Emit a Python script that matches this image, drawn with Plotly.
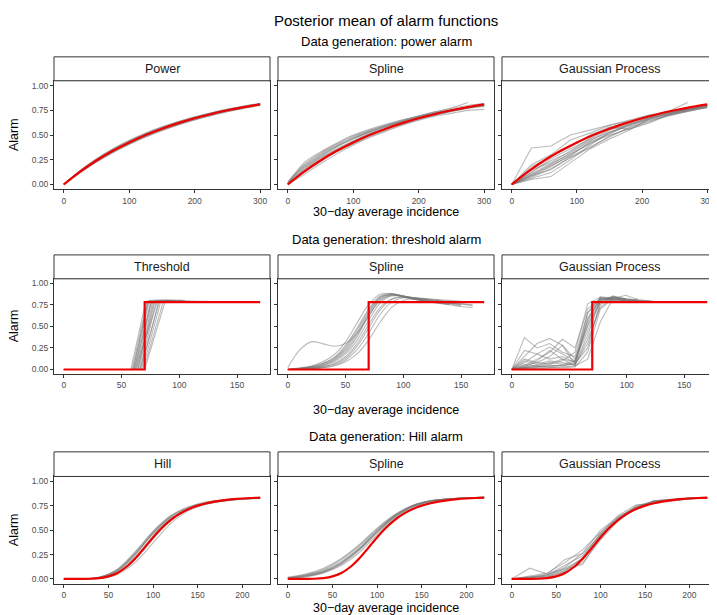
import plotly.graph_objects as go

# ---------------- Row 1: data generated with a power alarm ----------------
POWER_X = [0, 25, 50, 75, 100, 125, 150, 175, 200, 225, 250, 275, 300]
POWER_TRUE = [0, 0.130, 0.243, 0.341, 0.426, 0.501, 0.565, 0.621, 0.671, 0.713, 0.751, 0.783, 0.811]

POWER_FIT_POWER = [
    [0, 0.118, 0.226, 0.322, 0.405, 0.480, 0.545, 0.602, 0.653, 0.697, 0.736, 0.770, 0.800],
    [0, 0.142, 0.262, 0.362, 0.447, 0.521, 0.584, 0.638, 0.686, 0.727, 0.763, 0.794, 0.820],
    [0, 0.124, 0.234, 0.331, 0.414, 0.488, 0.553, 0.610, 0.660, 0.703, 0.742, 0.775, 0.804],
    [0, 0.137, 0.254, 0.353, 0.438, 0.512, 0.576, 0.631, 0.679, 0.721, 0.758, 0.790, 0.816],
    [0, 0.120, 0.229, 0.325, 0.409, 0.483, 0.548, 0.605, 0.656, 0.700, 0.739, 0.772, None],
    [0, 0.140, 0.258, 0.358, 0.443, 0.517, 0.580, 0.635, 0.683, 0.724, 0.761, 0.792, 0.818],
    [0, 0.128, 0.240, 0.338, 0.422, 0.497, 0.561, 0.618, 0.667, 0.710, 0.748, 0.780, 0.808],
    [0, 0.133, 0.247, 0.346, 0.431, 0.505, 0.569, 0.625, 0.674, 0.717, 0.754, 0.786, 0.814],
]

POWER_FIT_SPLINE = [
    [0.01, 0.22, 0.33, 0.42, 0.50, 0.56, 0.61, 0.655, 0.69, 0.725, 0.755, 0.78, 0.80],
    [0.02, 0.18, 0.30, 0.39, 0.47, 0.535, 0.59, 0.64, 0.68, 0.72, 0.75, 0.775, 0.795],
    [0.00, 0.15, 0.27, 0.36, 0.44, 0.51, 0.57, 0.62, 0.665, 0.705, 0.74, 0.77, 0.79],
    [0.00, 0.12, 0.23, 0.33, 0.41, 0.485, 0.55, 0.605, 0.655, 0.70, 0.74, 0.775, 0.805],
    [0.03, 0.20, 0.32, 0.41, 0.49, 0.55, 0.60, 0.645, 0.685, 0.72, 0.75, 0.78, None],
    [0.00, 0.16, 0.28, 0.38, 0.46, 0.53, 0.59, 0.64, 0.69, 0.735, 0.775, 0.83, None],
    [0.00, 0.10, 0.21, 0.31, 0.40, 0.475, 0.54, 0.60, 0.65, 0.69, 0.72, 0.75, 0.76],
    [0.01, 0.19, 0.31, 0.40, 0.48, 0.545, 0.60, 0.65, 0.695, 0.735, 0.77, 0.80, 0.82],
    [0.00, 0.14, 0.26, 0.355, 0.44, 0.515, 0.58, 0.635, 0.68, 0.72, 0.755, 0.785, 0.80],
    [0.01, 0.17, 0.29, 0.385, 0.465, 0.53, 0.585, 0.635, 0.678, 0.715, 0.748, 0.776, 0.80],
    [0.00, 0.13, 0.245, 0.345, 0.43, 0.505, 0.565, 0.62, 0.668, 0.71, 0.747, 0.78, 0.81],
]

GP_X1 = [0, 30, 60, 90, 120, 150, 180, 210, 240, 270, 300]
POWER_FIT_GP = [
    [0, 0.37, 0.39, 0.50, 0.55, 0.60, 0.65, 0.70, 0.74, 0.83, None],
    [0, 0.20, 0.30, 0.45, 0.52, 0.60, 0.64, 0.70, 0.73, 0.77, 0.80],
    [0, 0.10, 0.20, 0.32, 0.44, 0.55, 0.62, 0.68, 0.72, 0.76, 0.80],
    [0, 0.06, 0.12, 0.25, 0.40, 0.52, 0.60, 0.67, 0.71, 0.76, 0.79],
    [0, 0.08, 0.18, 0.30, 0.42, 0.50, 0.56, 0.62, 0.70, 0.75, 0.79],
    [0, 0.12, 0.26, 0.36, 0.46, 0.56, 0.60, 0.66, 0.72, 0.78, 0.81],
    [0, 0.15, 0.22, 0.34, 0.47, 0.58, 0.63, 0.69, 0.73, 0.76, 0.80],
    [0, 0.09, 0.15, 0.28, 0.38, 0.48, 0.58, 0.64, 0.70, 0.74, 0.78],
    [0, 0.05, 0.08, 0.22, 0.36, 0.46, 0.55, 0.66, 0.71, 0.75, 0.79],
    [0, 0.13, 0.24, 0.33, 0.45, 0.53, 0.61, 0.67, 0.74, 0.78, 0.80],
    [0, 0.18, 0.28, 0.38, 0.50, 0.58, 0.56, 0.63, 0.70, 0.75, 0.78],
    [0, 0.07, 0.16, 0.27, 0.37, 0.49, 0.57, 0.65, 0.69, 0.74, 0.78],
    [0, 0.11, 0.21, 0.31, 0.41, 0.53, 0.59, 0.66, 0.71, 0.76, 0.79],
    [0, 0.09, 0.19, 0.29, 0.43, 0.51, 0.61, 0.67, 0.72, 0.77, 0.80],
]

# ---------------- Row 2: data generated with a threshold alarm ----------------
THRESH_TRUE_X = [0, 70, 70, 170]
THRESH_TRUE_Y = [0, 0, 0.78, 0.78]

THR_RISE_START = [58, 59, 60, 61, 62, 63, 64, 65, 66, 67, 68, 69, 70, 60, 64, 62, 66, 61]
THR_RISE_END = [71, 72, 73, 74, 75, 76, 78, 79, 80, 82, 84, 86, 88, 73, 77, 81, 83, 76]
THR_LINE_END = [95, 100, 125, 105, 98, 110, 102, 96, 115, 108, 100, 104, 92, 99, 97, 106, 103, 94]
THR_TOP = [0.79, 0.78, 0.79, 0.80, 0.78, 0.79, 0.78, 0.80, 0.79, 0.78, 0.79, 0.78, 0.80, 0.79,
           0.78, 0.79, 0.80, 0.79]

SPLINE_X2 = [0, 10, 20, 30, 40, 50, 60, 70, 80, 90, 100, 110, 120, 130, 140, 150, 160]
THRESH_FIT_SPLINE = [
    [0.02, 0.22, 0.32, 0.30, 0.27, 0.30, 0.42, 0.62, 0.80, 0.86, 0.84, 0.81, 0.79, 0.77, 0.75, None, None],
    [0.00, 0.01, 0.03, 0.07, 0.14, 0.28, 0.48, 0.70, 0.85, 0.88, 0.85, 0.82, 0.80, 0.78, 0.76, 0.74, None],
    [0.00, 0.01, 0.02, 0.05, 0.10, 0.20, 0.38, 0.62, 0.80, 0.86, 0.85, 0.83, 0.81, 0.79, 0.77, 0.76, 0.74],
    [0.00, 0.00, 0.01, 0.03, 0.07, 0.15, 0.30, 0.52, 0.72, 0.82, 0.84, 0.83, 0.81, 0.80, 0.78, None, None],
    [0.00, 0.00, 0.01, 0.02, 0.05, 0.11, 0.23, 0.42, 0.64, 0.78, 0.83, 0.83, 0.81, 0.80, None, None, None],
    [0.00, 0.02, 0.04, 0.09, 0.17, 0.32, 0.54, 0.75, 0.87, 0.88, 0.84, 0.81, 0.79, 0.77, 0.76, None, None],
    [0.00, 0.00, 0.00, 0.02, 0.04, 0.09, 0.18, 0.34, 0.55, 0.72, 0.80, 0.82, 0.82, 0.81, 0.80, 0.79, None],
    [0.00, 0.01, 0.02, 0.04, 0.09, 0.18, 0.34, 0.57, 0.77, 0.85, 0.85, 0.82, 0.80, 0.78, 0.77, 0.76, 0.75],
    [0.00, 0.01, 0.03, 0.06, 0.12, 0.24, 0.43, 0.66, 0.83, 0.87, 0.85, 0.82, 0.79, 0.77, 0.75, 0.73, 0.72],
    [0.00, 0.00, 0.01, 0.03, 0.06, 0.13, 0.27, 0.48, 0.69, 0.81, 0.84, 0.83, 0.82, 0.80, 0.79, None, None],
    [0.00, 0.01, 0.02, 0.05, 0.11, 0.22, 0.40, 0.64, 0.82, 0.87, 0.85, 0.82, 0.80, 0.78, 0.77, 0.75, None],
    [0.00, 0.01, 0.03, 0.07, 0.13, 0.26, 0.46, 0.68, 0.84, 0.87, 0.84, 0.81, 0.79, 0.78, None, None, None],
]

GP_X2 = [0, 11, 22, 33, 44, 55, 66, 77, 88, 99, 110, 121, 132]
THRESH_FIT_GP = [
    [0, 0.37, 0.25, 0.30, 0.20, 0.15, 0.65, 0.83, 0.82, 0.80, None, None, None],
    [0, 0.15, 0.30, 0.36, 0.28, 0.12, 0.55, 0.84, 0.83, 0.81, 0.80, None, None],
    [0, 0.05, 0.12, 0.20, 0.35, 0.25, 0.70, 0.82, 0.80, 0.79, 0.79, 0.78, None],
    [0, 0.03, 0.05, 0.08, 0.06, 0.10, 0.45, 0.80, 0.84, 0.82, 0.80, 0.79, 0.78],
    [0, 0.02, 0.03, 0.04, 0.05, 0.06, 0.30, 0.75, 0.85, 0.81, None, None, None],
    [0, 0.08, 0.18, 0.12, 0.15, 0.08, 0.60, 0.80, 0.83, 0.80, 0.79, None, None],
    [0, 0.01, 0.02, 0.02, 0.03, 0.04, 0.12, 0.55, 0.82, 0.86, 0.81, 0.79, None],
    [0, 0.22, 0.18, 0.26, 0.18, 0.10, 0.50, 0.78, 0.82, 0.80, None, None, None],
    [0, 0.04, 0.08, 0.06, 0.10, 0.20, 0.76, 0.84, 0.82, 0.80, 0.79, 0.78, None],
    [0, 0.01, 0.01, 0.02, 0.02, 0.03, 0.20, 0.70, 0.82, 0.82, 0.80, 0.79, 0.78],
    [0, 0.12, 0.08, 0.15, 0.28, 0.06, 0.40, 0.80, 0.85, 0.82, None, None, None],
    [0, 0.02, 0.04, 0.03, 0.05, 0.08, 0.66, 0.82, 0.80, 0.78, None, None, None],
    [0, 0.10, 0.06, 0.10, 0.08, 0.05, 0.35, 0.72, 0.83, 0.81, 0.80, None, None],
    [0, 0.03, 0.10, 0.22, 0.12, 0.09, 0.52, 0.81, 0.82, 0.80, 0.79, 0.79, None],
    [0, 0.02, 0.03, 0.05, 0.04, 0.07, 0.25, 0.78, 0.84, 0.81, 0.80, None, None],
    [0, 0.06, 0.04, 0.07, 0.12, 0.04, 0.58, 0.83, 0.81, 0.79, None, None, None],
]

# ---------------- Row 3: data generated with a Hill alarm ----------------
HILL_TRUE_X = [0, 10, 20, 30, 40, 50, 60, 70, 80, 90, 100, 110, 120, 130, 140, 150,
               160, 170, 180, 190, 200, 210, 220]
HILL_TRUE = [0, 0.0, 0.0003, 0.0021, 0.0086, 0.0258, 0.0613, 0.1223, 0.2098, 0.3156, 0.425,
             0.5244, 0.6063, 0.6696, 0.7167, 0.751, 0.776, 0.7941, 0.8073, 0.817, 0.8242,
             0.8297, 0.8338]

HILL_X = [0, 20, 40, 60, 80, 100, 120, 140, 160, 180, 200, 220]
HILL_FIT_HILL = [
    [0, 0.001, 0.015, 0.09, 0.27, 0.49, 0.65, 0.74, 0.79, 0.81, 0.825, 0.83],
    [0, 0.001, 0.012, 0.08, 0.25, 0.47, 0.64, 0.73, 0.78, 0.81, 0.822, 0.83],
    [0, 0.000, 0.008, 0.06, 0.20, 0.41, 0.60, 0.71, 0.77, 0.80, 0.82, 0.83],
    [0, 0.000, 0.005, 0.045, 0.17, 0.37, 0.57, 0.70, 0.765, 0.80, 0.82, 0.83],
    [0, 0.002, 0.020, 0.10, 0.28, 0.48, 0.63, 0.72, 0.77, 0.80, 0.815, 0.825],
    [0, 0.001, 0.014, 0.075, 0.23, 0.44, 0.62, 0.72, 0.78, 0.81, 0.823, 0.832],
    [0, 0.001, 0.017, 0.095, 0.26, 0.46, 0.62, 0.72, 0.775, 0.805, 0.82, 0.828],
    [0, 0.001, 0.018, 0.085, 0.255, 0.475, 0.645, 0.735, 0.785, 0.81, 0.824, 0.831],
]

HILL_FIT_SPLINE = [
    [0.01, 0.04, 0.09, 0.18, 0.32, 0.50, 0.65, 0.75, 0.80, 0.82, 0.83, 0.835],
    [0.00, 0.03, 0.07, 0.15, 0.29, 0.47, 0.63, 0.74, 0.79, 0.815, 0.83, 0.835],
    [0.02, 0.05, 0.11, 0.21, 0.35, 0.52, 0.66, 0.755, 0.80, 0.82, 0.83, 0.83],
    [0.00, 0.02, 0.06, 0.14, 0.27, 0.45, 0.62, 0.735, 0.79, 0.815, 0.828, 0.834],
    [0.01, 0.035, 0.08, 0.17, 0.31, 0.49, 0.645, 0.75, 0.80, 0.82, 0.83, 0.838],
    [0.00, 0.025, 0.065, 0.16, 0.30, 0.48, 0.64, 0.745, 0.795, 0.818, 0.83, 0.836],
    [0.01, 0.045, 0.10, 0.20, 0.34, 0.51, 0.655, 0.752, 0.80, 0.822, 0.832, 0.836],
    [0.01, 0.03, 0.075, 0.165, 0.305, 0.485, 0.64, 0.745, 0.798, 0.82, 0.83, 0.835],
]

HILL_FIT_GP = [
    [0, 0.11, 0.05, 0.20, 0.26, 0.45, 0.61, 0.73, 0.80, 0.81, 0.83, 0.83],
    [0, 0.02, 0.04, 0.12, 0.27, 0.50, 0.64, 0.73, 0.78, 0.81, 0.825, 0.833],
    [0, 0.01, 0.03, 0.09, 0.22, 0.46, 0.63, 0.74, 0.79, 0.80, 0.82, 0.83],
    [0, 0.03, 0.06, 0.17, 0.30, 0.48, 0.62, 0.72, 0.78, 0.81, 0.83, 0.835],
    [0, 0.00, 0.02, 0.07, 0.17, 0.40, 0.60, 0.72, 0.80, 0.82, 0.83, 0.833],
    [0, 0.02, 0.05, 0.10, 0.15, 0.43, 0.62, 0.75, 0.79, 0.81, 0.826, 0.833],
    [0, 0.01, 0.04, 0.14, 0.24, 0.47, 0.65, 0.76, 0.77, 0.80, 0.82, 0.83],
    [0, 0.02, 0.03, 0.11, 0.20, 0.44, 0.60, 0.74, 0.80, 0.815, 0.825, 0.832],
    [0, 0.01, 0.02, 0.08, 0.21, 0.45, 0.62, 0.73, 0.785, 0.81, 0.826, 0.833],
]

# ---------------- Labels ----------------
TITLE = "Posterior mean of alarm functions"
ROW_TITLES = ["Data generation: power alarm", "Data generation: threshold alarm",
              "Data generation: Hill alarm"]
COL_TITLES = [["Power", "Spline", "Gaussian Process"],
              ["Threshold", "Spline", "Gaussian Process"],
              ["Hill", "Spline", "Gaussian Process"]]
X_TITLE = "30\u2212day average incidence"
Y_TITLE = "Alarm"
X_TICKS = [[0, 100, 200, 300], [0, 50, 100, 150], [0, 50, 100, 150, 200]]
X_MAX = [300, 170, 220]
Y_TICKS = [0, 0.25, 0.5, 0.75, 1.0]
Y_TICK_TEXT = ["0.00", "0.25", "0.50", "0.75", "1.00"]

# ---------------- Build threshold-model posterior lines ----------------
thr_lines_x = []
thr_lines_y = []
for s, e, end, top in zip(THR_RISE_START, THR_RISE_END, THR_LINE_END, THR_TOP):
    thr_lines_x.append([0, s, e, end])
    thr_lines_y.append([0, 0, top, top])

panels = [
    [([POWER_X] * len(POWER_FIT_POWER), POWER_FIT_POWER, "spline", POWER_X, POWER_TRUE),
     ([POWER_X] * len(POWER_FIT_SPLINE), POWER_FIT_SPLINE, "spline", POWER_X, POWER_TRUE),
     ([GP_X1] * len(POWER_FIT_GP), POWER_FIT_GP, "linear", POWER_X, POWER_TRUE)],
    [(thr_lines_x, thr_lines_y, "linear", THRESH_TRUE_X, THRESH_TRUE_Y),
     ([SPLINE_X2] * len(THRESH_FIT_SPLINE), THRESH_FIT_SPLINE, "spline", THRESH_TRUE_X, THRESH_TRUE_Y),
     ([GP_X2] * len(THRESH_FIT_GP), THRESH_FIT_GP, "linear", THRESH_TRUE_X, THRESH_TRUE_Y)],
    [([HILL_X] * len(HILL_FIT_HILL), HILL_FIT_HILL, "spline", HILL_TRUE_X, HILL_TRUE),
     ([HILL_X] * len(HILL_FIT_SPLINE), HILL_FIT_SPLINE, "spline", HILL_TRUE_X, HILL_TRUE),
     ([HILL_X] * len(HILL_FIT_GP), HILL_FIT_GP, "linear", HILL_TRUE_X, HILL_TRUE)],
]

# ---------------- Geometry (pixels) ----------------
W, H = 717, 615
COLS = [(46, 262), (270, 486), (494, 709)]
ROW_PANEL = [(72, 181), (270.7, 366), (469, 576.7)]
ROW_STRIP = [(48, 72), (246.7, 270.7), (444.3, 469)]
ROW_TITLE_Y = [33, 231.7, 429.3]
X_TITLE_Y = [204, 402.7, 601]

def px(x):
    return x / W

def py(y):
    return 1 - y / H

FONT = "Liberation Sans, Arial, Helvetica, sans-serif"
GREY = "rgba(120,120,120,0.5)"
RED = "#ee0000"
BORDER = "#333333"

fig = go.Figure()
layout = dict(
    width=W, height=H, margin=dict(l=0, r=0, t=0, b=0),
    paper_bgcolor="white", plot_bgcolor="white", showlegend=False,
    font=dict(family=FONT),
)
shapes = []
annotations = []

k = 0
for r in range(3):
    for c in range(3):
        k += 1
        xa = "x" if k == 1 else f"x{k}"
        ya = "y" if k == 1 else f"y{k}"
        gx, gy, shape, tx, ty = panels[r][c]
        for xs, ys in zip(gx, gy):
            fig.add_trace(go.Scatter(x=xs, y=ys, mode="lines", xaxis=xa, yaxis=ya,
                                     line=dict(color=GREY, width=1.1, shape=shape),
                                     hoverinfo="skip", connectgaps=False))
        fig.add_trace(go.Scatter(x=tx, y=ty, mode="lines", xaxis=xa, yaxis=ya,
                                 line=dict(color=RED, width=2.2,
                                           shape="spline" if r != 1 else "linear"),
                                 hoverinfo="skip"))
        L, R = COLS[c]
        T, B = ROW_PANEL[r]
        xm = X_MAX[r]
        layout["xaxis" if k == 1 else f"xaxis{k}"] = dict(
            domain=[px(L), px(R)], anchor=ya, range=[-0.05 * xm, 1.05 * xm],
            tickvals=X_TICKS[r], ticktext=[str(v) for v in X_TICKS[r]],
            showgrid=False, zeroline=False, showline=True, mirror=True,
            linecolor=BORDER, linewidth=1, ticks="outside", ticklen=3,
            tickcolor=BORDER, tickwidth=1,
            tickfont=dict(size=8.5, color="#4d4d4d", family=FONT),
        )
        layout["yaxis" if k == 1 else f"yaxis{k}"] = dict(
            domain=[py(B), py(T)], anchor=xa, range=[-0.05, 1.05],
            tickvals=Y_TICKS, ticktext=Y_TICK_TEXT, showticklabels=(c == 0),
            showgrid=False, zeroline=False, showline=True, mirror=True,
            linecolor=BORDER, linewidth=1, ticks="outside", ticklen=3,
            tickcolor=BORDER, tickwidth=1,
            tickfont=dict(size=8.5, color="#4d4d4d", family=FONT),
        )
        sT, sB = ROW_STRIP[r]
        shapes.append(dict(type="rect", xref="paper", yref="paper",
                           x0=px(L), x1=px(R), y0=py(sB), y1=py(sT),
                           line=dict(color=BORDER, width=1), fillcolor="white"))
        annotations.append(dict(text=COL_TITLES[r][c], xref="paper", yref="paper",
                                x=px((L + R) / 2), y=py((sT + sB) / 2),
                                xanchor="center", yanchor="middle", showarrow=False,
                                font=dict(size=12.5, color="#1a1a1a", family=FONT)))
    annotations.append(dict(text=ROW_TITLES[r], xref="paper", yref="paper",
                            x=px(378), y=py(ROW_TITLE_Y[r]), xanchor="center",
                            yanchor="middle", showarrow=False,
                            font=dict(size=13, color="black", family=FONT)))
    annotations.append(dict(text=X_TITLE, xref="paper", yref="paper",
                            x=px(378), y=py(X_TITLE_Y[r]), xanchor="center",
                            yanchor="middle", showarrow=False,
                            font=dict(size=12.5, color="black", family=FONT)))
    T, B = ROW_PANEL[r]
    annotations.append(dict(text=Y_TITLE, xref="paper", yref="paper",
                            x=px(6), y=py((T + B) / 2), xanchor="center",
                            yanchor="middle", showarrow=False, textangle=-90,
                            font=dict(size=12.5, color="black", family=FONT)))

annotations.append(dict(text=TITLE, xref="paper", yref="paper",
                        x=px(378), y=py(12), xanchor="center", yanchor="middle",
                        showarrow=False, font=dict(size=15, color="black", family=FONT)))

layout["shapes"] = shapes
layout["annotations"] = annotations
fig.update_layout(**layout)
fig.write_html("out.html")
